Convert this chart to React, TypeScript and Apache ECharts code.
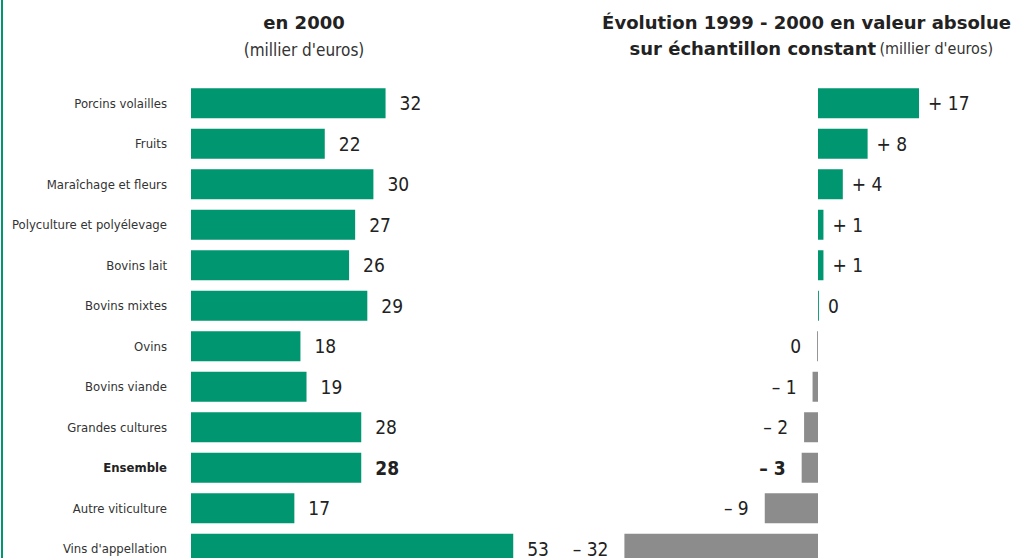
import React, { useEffect, useRef } from "react";
import * as echarts from "echarts";

const categories = [
  "Porcins volailles",
  "Fruits",
  "Maraîchage et fleurs",
  "Polyculture et polyélevage",
  "Bovins lait",
  "Bovins mixtes",
  "Ovins",
  "Bovins viande",
  "Grandes cultures",
  "Ensemble",
  "Autre viticulture",
  "Vins d'appellation",
];
const values2000 = [32, 22, 30, 27, 26, 29, 18, 19, 28, 28, 17, 53];
const evolution = [16.7, 8.2, 4.1, 0.9, 0.9, 0.15, -0.15, -0.9, -2.3, -2.7, -8.8, -32];
const evolutionLabels = ["+ 17", "+ 8", "+ 4", "+ 1", "+ 1", "0", "0", "– 1", "– 2", "– 3", "– 9", "– 32"];
const highlight = "Ensemble";

const GREEN = "#009670";
const GRAY = "#8c8c8c";
const NARROW = "'DejaVu Sans Condensed', 'Liberation Sans', sans-serif";
const BOLD = "'DejaVu Sans', 'Liberation Sans', sans-serif";

export default function App() {
  const ref = useRef<HTMLDivElement>(null);
  useEffect(() => {
    if (!ref.current) return;
    const chart = echarts.init(ref.current, null, { renderer: "svg" });
    const top = 83;
    const height = 486;
    const leftData = values2000.map((v, i) => ({
      value: v,
      label: categories[i] === highlight ? { fontWeight: "bold" } : undefined,
    }));
    const rightData = evolution.map((v, i) => ({
      value: v,
      itemStyle: { color: v >= 0 ? GREEN : GRAY },
      label: {
        position: v >= 0 ? "right" : "left",
        distance: v >= 0 ? 9 : 16,
        fontWeight: categories[i] === highlight ? "bold" : "normal",
      },
    }));
    chart.setOption({
      animation: false,
      backgroundColor: "#ffffff",
      grid: [
        { left: 191, top, width: 60 * 6.08, height, containLabel: false, outerBoundsMode: "none" },
        { left: 818 - 35 * 6.05, top, width: 65 * 6.05, height, containLabel: false, outerBoundsMode: "none" },
      ],
      xAxis: [
        { gridIndex: 0, type: "value", min: 0, max: 60, show: false },
        { gridIndex: 1, type: "value", min: -35, max: 30, show: false },
      ],
      yAxis: [
        {
          gridIndex: 0,
          type: "category",
          data: categories,
          inverse: true,
          axisLine: { show: false },
          axisTick: { show: false },
          axisLabel: {
            margin: 24,
            fontFamily: NARROW,
            fontSize: 13,
            color: "#333",
            formatter: (v: string) => (v === highlight ? `{b|${v}}` : v),
            rich: { b: { fontWeight: "bold", fontFamily: NARROW, fontSize: 13, color: "#222" } },
          },
        },
        {
          gridIndex: 1,
          type: "category",
          data: categories,
          inverse: true,
          show: false,
        },
      ],
      series: [
        {
          type: "bar",
          xAxisIndex: 0,
          yAxisIndex: 0,
          data: leftData,
          barWidth: 30,
          itemStyle: { color: GREEN },
          label: {
            show: true,
            position: "right",
            distance: 14,
            fontFamily: NARROW,
            fontSize: 19,
            color: "#222",
          },
        },
        {
          type: "bar",
          xAxisIndex: 1,
          yAxisIndex: 1,
          data: rightData,
          barWidth: 30,
          label: {
            show: true,
            fontFamily: NARROW,
            fontSize: 19,
            color: "#222",
            formatter: (p: any) => evolutionLabels[p.dataIndex],
          },
        },
      ],
      graphic: [
        { type: "rect", left: 1, top: 0, shape: { width: 2, height: 600 }, style: { fill: GREEN } },
        {
          type: "text",
          x: 304,
          y: 22,
          style: {
            text: "en 2000",
            font: `bold 18px ${BOLD}`,
            fill: "#222",
            align: "center",
            verticalAlign: "middle",
          },
        },
        {
          type: "text",
          x: 304,
          y: 50,
          style: {
            text: "(millier d'euros)",
            font: `17px ${NARROW}`,
            fill: "#333",
            align: "center",
            verticalAlign: "middle",
          },
        },
        {
          type: "text",
          x: 1011,
          y: 22,
          style: {
            text: "Évolution 1999 - 2000 en valeur absolue",
            font: `bold 18px ${BOLD}`,
            fill: "#222",
            align: "right",
            verticalAlign: "middle",
          },
        },
        {
          type: "text",
          x: 993,
          y: 48,
          style: {
            text: "{b|sur échantillon constant} {n|(millier d'euros)}",
            align: "right",
            verticalAlign: "middle",
            rich: {
              b: { font: `bold 18px ${BOLD}`, fill: "#222" },
              n: { font: `16px ${NARROW}`, fill: "#333" },
            },
          },
        },
      ],
    });
    return () => chart.dispose();
  }, []);
  return (
    <div style={{ position: "fixed", left: 0, top: 0, width: 1013, height: 558, overflow: "hidden" }}>
      <div ref={ref} style={{ width: 1013, height: 600 }} />
    </div>
  );
}
